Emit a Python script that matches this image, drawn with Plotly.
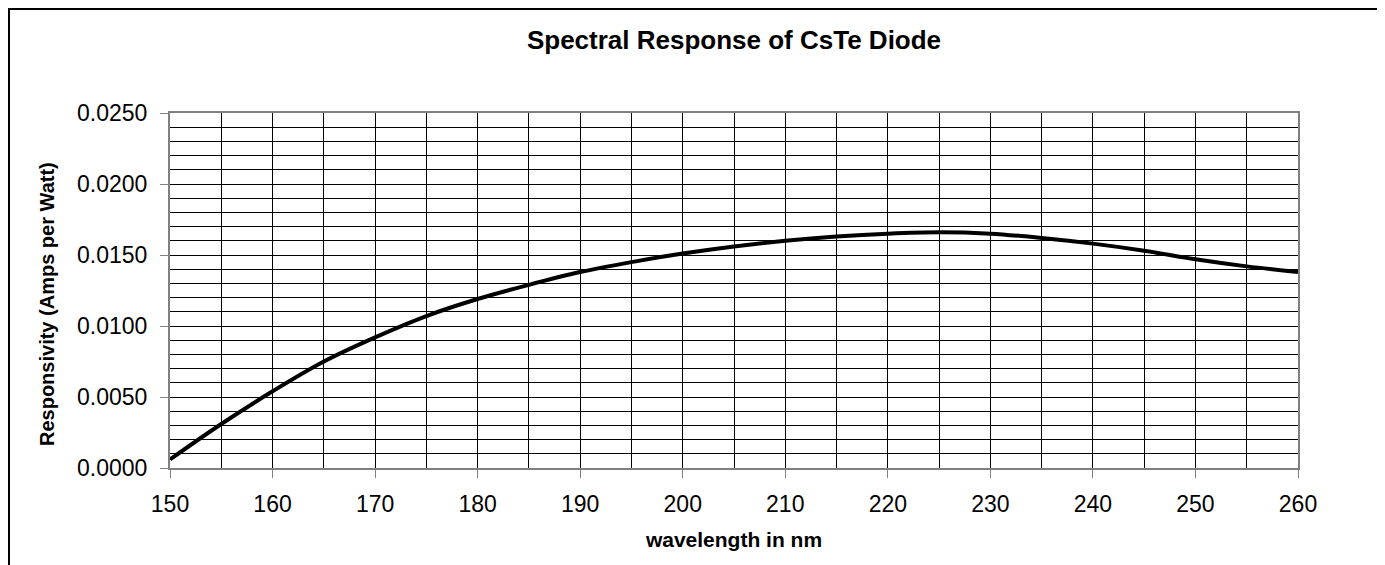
import plotly.graph_objects as go

wavelength_nm = [150, 155, 160, 165, 170, 175, 180, 185, 190, 195, 200, 205,
                 210, 215, 220, 225, 230, 235, 240, 245, 250, 255, 260]
responsivity = [0.0006, 0.0031, 0.0054, 0.0075, 0.0092, 0.0107, 0.0119, 0.0129,
                0.0138, 0.0145, 0.0151, 0.0156, 0.0160, 0.0163, 0.0165, 0.0166,
                0.0165, 0.0162, 0.0158, 0.0153, 0.0147, 0.0142, 0.0138]

title_text = "Spectral Response of CsTe Diode"
x_title = "wavelength in nm"
y_title = "Responsivity (Amps per Watt)"

FONT = "Arial, 'Liberation Sans', sans-serif"

# page body has an 8px margin, so the figure is laid out 8px smaller
OFF = 8
W, H = 1385 - OFF, 565 - OFF
L, T = 170 - OFF, 113 - OFF
R = W - (1298 - OFF)
B = H - (468 - OFF)
pw, ph = W - L - R, H - T - B

fig = go.Figure()
fig.add_trace(go.Scatter(
    x=wavelength_nm, y=responsivity, mode="lines",
    line=dict(color="black", width=4, shape="spline", smoothing=1.0),
    showlegend=False, hoverinfo="x+y",
))

fig.update_layout(
    width=W, height=H,
    margin=dict(l=L, r=R, t=T, b=B),
    paper_bgcolor="white", plot_bgcolor="white",
    font=dict(family=FONT, color="black"),
    title=dict(text="<b>" + title_text + "</b>", x=(L + pw / 2) / W, xanchor="center",
               y=1 - 32 / H, yanchor="middle", font=dict(size=26, family=FONT, color="black")),
    showlegend=False,
)

fig.update_xaxes(
    range=[150, 260], dtick=10, tick0=150,
    ticks="outside", ticklen=8, tickcolor="#808080", tickwidth=1,
    ticklabelstandoff=6,
    tickfont=dict(size=23, family=FONT, color="black"),
    showgrid=True, gridcolor="black", gridwidth=1,
    minor=dict(dtick=5, tick0=150, showgrid=True, gridcolor="black", gridwidth=1, ticks=""),
    showline=True, linecolor="#808080", linewidth=2, mirror=True,
    zeroline=False,
    title=dict(text="<b>" + x_title + "</b>", font=dict(size=21, family=FONT, color="black"), standoff=17),
)
fig.update_yaxes(
    range=[0, 0.025], dtick=0.005, tick0=0, tickformat=".4f",
    ticks="outside", ticklen=8, tickcolor="#808080", tickwidth=1,
    ticklabelstandoff=8,
    tickfont=dict(size=23, family=FONT, color="black"),
    showgrid=True, gridcolor="black", gridwidth=1,
    minor=dict(dtick=0.001, tick0=0, showgrid=True, gridcolor="black", gridwidth=1, ticks=""),
    showline=True, linecolor="#808080", linewidth=2, mirror=True,
    zeroline=False,
)

# y-axis title, placed where the reference has it (slightly below the plot centre)
fig.add_annotation(
    text="<b>" + y_title + "</b>", textangle=-90, showarrow=False,
    xref="paper", yref="paper",
    x=(47 - OFF - L) / pw, y=(T + ph - (304 - OFF)) / ph,
    xanchor="center", yanchor="middle",
    font=dict(size=20, family=FONT, color="black"),
)

# outer chart-area border (extends beyond the visible window on right and bottom)
fig.add_shape(type="rect", xref="paper", yref="paper",
              x0=(1 - L) / pw, x1=(W + 30 - L) / pw,
              y0=-(H + 30 - (T + ph)) / ph, y1=(T + ph - 1) / ph,
              line=dict(color="black", width=2), fillcolor="rgba(0,0,0,0)", layer="below")

fig.write_html("out.html")
